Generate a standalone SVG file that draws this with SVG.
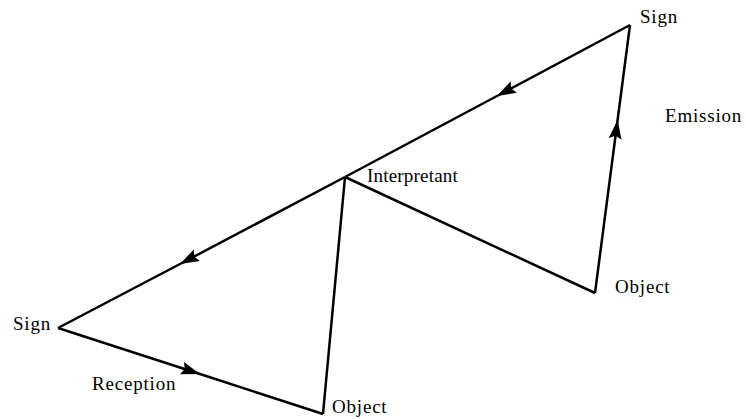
<svg xmlns="http://www.w3.org/2000/svg" width="746" height="419" viewBox="0 0 746 419">
<defs>
<marker id="ah" viewBox="0 -8 20 16" refX="19" refY="0" markerWidth="20" markerHeight="16" markerUnits="userSpaceOnUse" orient="auto">
<path d="M0,-6.5 L19,0 L0,6.5 L3,0 z" fill="#000"/>
</marker>
</defs>
<style>
.edge{fill:none;stroke:#000;stroke-width:2.5;stroke-linejoin:miter}
.arr{marker-mid:url(#ah)}
text{font-family:"Liberation Serif","Times New Roman",serif;font-size:19px;fill:#000;letter-spacing:0.8px}
.tight{letter-spacing:0.2px}
</style>
<rect width="746" height="419" fill="#fff"/>
<g id="connectors">
<path class="edge arr" d="M630,25 L497,96 L345,177"/>
<path class="edge arr" d="M345,177 L180,264 L58,328"/>
<path class="edge arr" d="M58,328 L200,374 L323,414"/>
<path class="edge arr" d="M595,293 L617.6,120 L630,25"/>
<path class="edge" d="M345,177 L323,414"/>
<path class="edge" d="M345,177 L595,293"/>
</g>
<g id="sign-top"><text x="640" y="23">Sign</text></g>
<g id="emission"><text x="665" y="122">Emission</text></g>
<g id="interpretant"><text class="tight" x="367" y="182">Interpretant</text></g>
<g id="object-right"><text x="615" y="293">Object</text></g>
<g id="sign-left"><text x="13" y="330">Sign</text></g>
<g id="reception"><text x="92" y="390">Reception</text></g>
<g id="object-bottom"><text x="332" y="413">Object</text></g>
</svg>
